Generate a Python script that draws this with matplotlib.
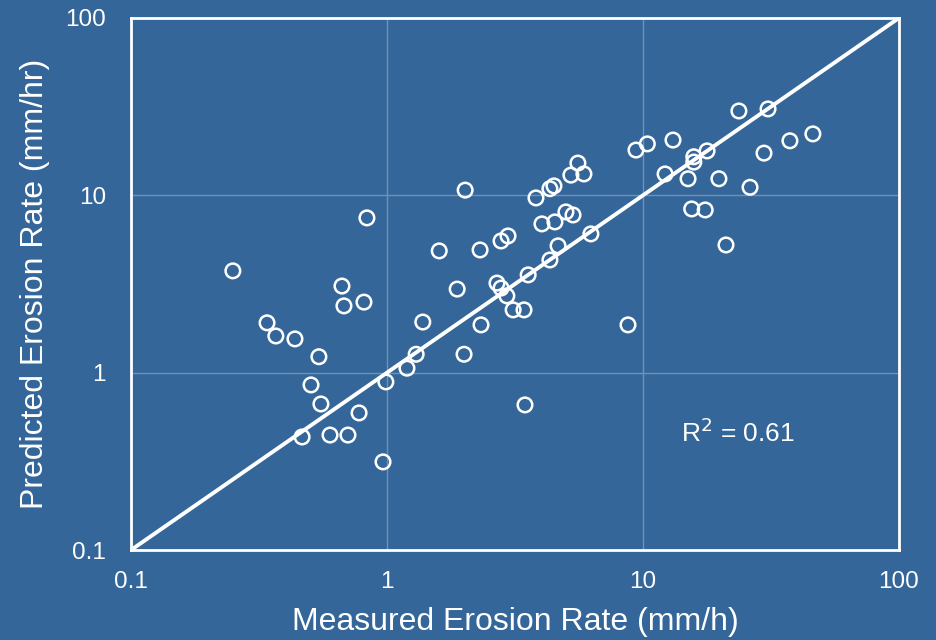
import numpy as np
import matplotlib.pyplot as plt
from matplotlib.ticker import FixedLocator, FixedFormatter, NullLocator

plt.rcParams["font.family"] = ["Liberation Sans", "DejaVu Sans"]

# measured vs predicted erosion rate
measured = [0.25, 0.34, 0.368, 0.437, 0.667, 0.679, 0.813, 0.835, 0.542, 0.505,
            0.552, 0.466, 0.599, 0.704, 0.778, 0.965, 0.99, 1.197, 1.30, 1.38,
            1.60, 1.88, 2.0, 2.02, 2.31, 2.33, 2.69, 2.79, 2.94, 2.79,
            2.97, 3.11, 3.43, 3.46, 3.56, 3.82, 4.03, 4.53, 4.33, 4.49,
            5.23, 5.88, 5.57, 5.0, 5.33, 4.66, 4.33, 6.26, 8.74, 9.39,
            10.4, 13.1, 23.7, 30.8, 15.8, 15.8, 17.8, 12.2, 15.0, 19.8,
            26.2, 29.7, 37.5, 46.1, 15.5, 17.5, 21.1]
predicted = [3.75, 1.91, 1.61, 1.55, 3.08, 2.38, 2.5, 7.46, 1.23, 0.853,
             0.666, 0.434, 0.445, 0.445, 0.593, 0.314, 0.887, 1.06, 1.27, 1.93,
             4.86, 2.96, 1.27, 10.7, 4.92, 1.86, 3.2, 3.0, 2.71, 5.53,
             5.90, 2.26, 2.26, 0.658, 3.56, 9.67, 6.9, 7.08, 10.9, 11.3,
             13.0, 13.2, 15.2, 8.06, 7.75, 5.19, 4.32, 6.06, 1.86, 18.0,
             19.5, 20.5, 29.9, 30.7, 16.5, 15.4, 17.8, 13.2, 12.4, 12.4,
             11.1, 17.3, 20.3, 22.2, 8.38, 8.27, 5.25]
one_to_one = [0.1, 100]
ticks = [0.1, 1, 10, 100]
tick_labels = ["0.1", "1", "10", "100"]
r2_text = "R$^2$ = 0.61"

bg = "#34669a"

fig = plt.figure(figsize=(9.37, 6.4), dpi=100, facecolor=bg)
ax = fig.add_axes([0.1398, 0.1406, 0.8196, 0.8313], facecolor=bg)

ax.set_xscale("log")
ax.set_yscale("log")
ax.set_xlim(0.1, 100)
ax.set_ylim(0.1, 100)

ax.grid(True, which="major", color="#7090b8", linewidth=1.0)
ax.set_axisbelow(True)

ax.plot(one_to_one, one_to_one, color="white", linewidth=2.8, zorder=2)
ax.scatter(measured, predicted, s=110, facecolors="none", edgecolors="white",
           linewidths=1.8, zorder=3)

for axis in (ax.xaxis, ax.yaxis):
    axis.set_major_locator(FixedLocator(ticks))
    axis.set_major_formatter(FixedFormatter(tick_labels))
    axis.set_minor_locator(NullLocator())
ax.tick_params(length=0, labelsize=17.5, labelcolor="white")
ax.tick_params(axis="x", pad=15)
ax.tick_params(axis="y", pad=18)

for sp in ax.spines.values():
    sp.set_color("white")
    sp.set_linewidth(2)

ax.set_xlabel("Measured Erosion Rate (mm/h)", fontsize=23, color="white", labelpad=10)
ax.set_ylabel("Predicted Erosion Rate (mm/hr)", fontsize=23, color="white", labelpad=11)

ax.text(0.79, 0.22, r2_text, transform=ax.transAxes, fontsize=19, color="white",
        ha="center", va="center")

fig.savefig("out.png", dpi=100, facecolor=bg)
